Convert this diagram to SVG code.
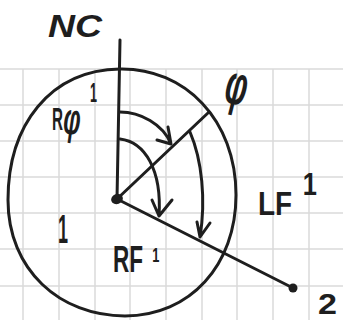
<svg xmlns="http://www.w3.org/2000/svg" width="343" height="320" viewBox="0 0 343 320">
<defs>
<style>
.grid{stroke:#dadada;stroke-width:1.5;fill:none}
.ink{stroke:#1e1e1e;stroke-width:3;fill:none;stroke-linecap:round;stroke-linejoin:round}
.txt{font-family:"Liberation Sans","DejaVu Sans",sans-serif;fill:#1e1e1e;font-weight:700}
.dot{fill:#1e1e1e}
</style>
</defs>
<rect width="343" height="320" fill="#ffffff"/>
<g id="grid" class="grid">
<path d="M23,69V320M59,69V320M95,69V320M130,69V320M166,69V320M202,69V320M237,69V320M273,69V320M309,69V320"/>
<path d="M0,69H343M0,105H343M0,141H343M0,177H343M0,213H343M0,249H343M0,286H343"/>
</g>
<g id="circle">
<path class="ink" d="M120,69 C185,68 236,120 236,195 C236,265 190,316 125,316 C60,316 8,270 8,200 C8,125 50,70 120,69 Z"/>
</g>
<g id="connectors" class="ink">
<path id="axis-NC" d="M120,40 L117,199"/>
<path id="axis-phi" d="M117,199 L209,112"/>
<path id="axis-2" d="M117,199 L293,288"/>
<path id="arc1" d="M120,112 C140,112 163,124 171,144 M157,140 L171,144 L168,127"/>
<path id="arc2" d="M120,139 C145,142 162,170 159,216 M152,200 L159,216 L172,200"/>
<path id="arc3" d="M190,132 C202,160 206,200 200,237 M197,222 L200,237 L210,223"/>
</g>
<g id="node-center"><ellipse class="dot" cx="117" cy="199" rx="6" ry="5" transform="rotate(-20 117 199)"/></g>
<g id="node-2"><circle class="dot" cx="293" cy="288" r="4.5"/>
<text class="txt" x="318" y="314" font-size="29" textLength="19" lengthAdjust="spacingAndGlyphs">2</text></g>
<g id="label-NC"><text class="txt" x="48" y="37" font-size="32" font-style="italic" textLength="54" lengthAdjust="spacingAndGlyphs">NC</text></g>
<g id="label-Rphi">
<text class="txt" x="52" y="130" font-size="31" textLength="11" lengthAdjust="spacingAndGlyphs">R</text>
<text class="txt" transform="translate(72,122) rotate(8) scale(0.55,1)" x="0" y="12" font-size="44" text-anchor="middle">φ</text>
<text class="txt" x="90" y="102" font-size="27" textLength="7" lengthAdjust="spacingAndGlyphs">1</text>
</g>
<g id="label-phi"><text class="txt" transform="translate(236,90) rotate(14) scale(0.55,1)" x="0" y="14" font-size="56" text-anchor="middle">φ</text></g>
<g id="label-1"><text class="txt" x="58" y="243" font-size="40" textLength="10" lengthAdjust="spacingAndGlyphs">1</text></g>
<g id="label-RF1">
<text class="txt" transform="translate(113,272) scale(0.61,1)" font-size="37">RF<tspan font-size="21" dx="15" dy="-10">1</tspan></text>
</g>
<g id="label-LF1">
<text class="txt" transform="translate(258,215) scale(0.82,1)" font-size="34">LF<tspan font-size="31" dx="13" dy="-20">1</tspan></text>
</g>
</svg>
